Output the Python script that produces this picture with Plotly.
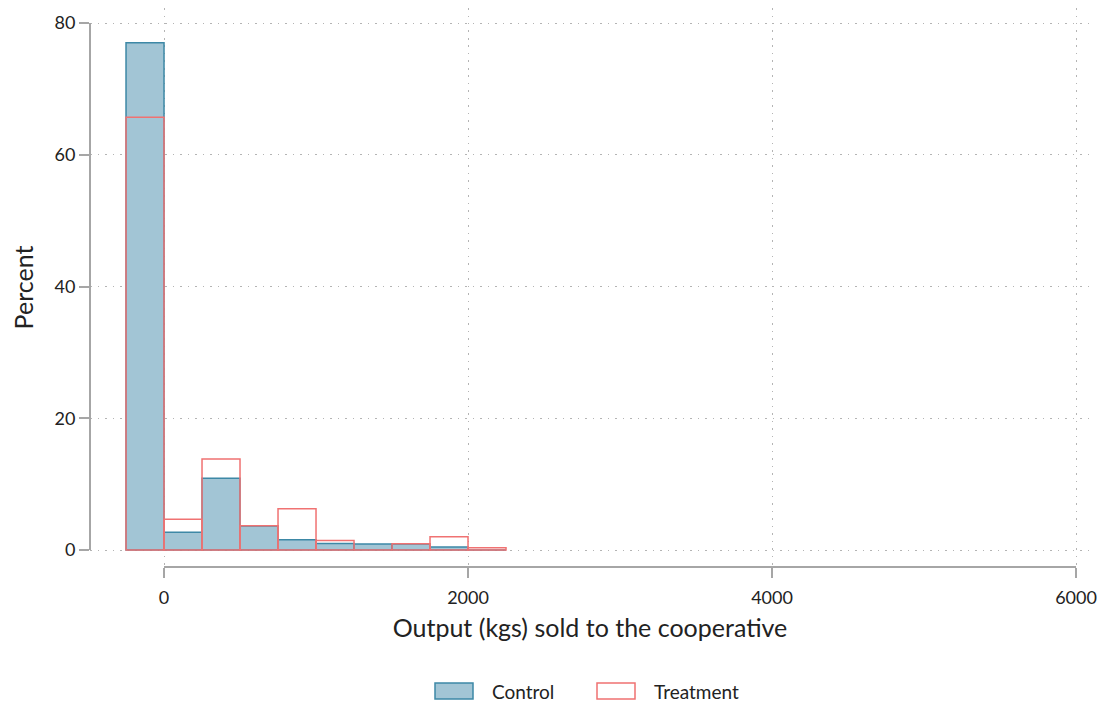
import plotly.graph_objects as go

bin_left = [-250, 0, 250, 500, 750, 1000, 1250, 1500, 1750, 2000]
bin_width = 250
control_pct = [77.0, 2.7, 10.9, 3.65, 1.55, 1.0, 0.9, 0.9, 0.45, 0.0]
treatment_pct = [65.7, 4.65, 13.8, 3.7, 6.25, 1.45, 0.0, 0.95, 2.0, 0.35]

x_ticks = [0, 2000, 4000, 6000]
y_ticks = [0, 20, 40, 60, 80]

centers = [b + bin_width / 2 for b in bin_left]

FONT = "Source Sans Pro, Lato, Noto Sans, sans-serif"
AXIS_COL = "#a6a6a6"
GRID_COL = "#b4b4b4"
CTRL_FILL, CTRL_LINE = "#a2c5d5", "#3d88a6"
TRT_LINE = "#f07272"

fig = go.Figure()
fig.add_trace(go.Bar(
    x=centers, y=control_pct, width=bin_width, name="Control",
    marker=dict(color=CTRL_FILL, line=dict(color=CTRL_LINE, width=1.5)),
))
fig.add_trace(go.Bar(
    x=centers, y=treatment_pct, width=bin_width, name="Treatment",
    marker=dict(color="rgba(255,255,255,0)", line=dict(color=TRT_LINE, width=1.5)),
))

fig.update_layout(
    width=1097, height=700,
    barmode="overlay",
    plot_bgcolor="white", paper_bgcolor="white",
    margin=dict(l=82, r=15, t=0, b=141, autoexpand=False),
    font=dict(family=FONT, size=18, color="#222"),
    showlegend=False,
    xaxis=dict(
        range=[-487, 6092], tickvals=x_ticks, ticktext=[str(v) for v in x_ticks],
        showgrid=True, gridcolor=GRID_COL, griddash="1.5px,6px", gridwidth=1.2,
        zeroline=False, showline=False, ticks="outside", ticklen=10,
        tickcolor=AXIS_COL, tickwidth=1.5, tickfont=dict(size=18), automargin=False,
        ticklabelstandoff=4,
        title=dict(text="Output (kgs) sold to the cooperative", font=dict(size=25), standoff=12),
    ),
    yaxis=dict(
        range=[-2.58, 82.28], tickvals=y_ticks, ticktext=[str(v) for v in y_ticks],
        showgrid=True, gridcolor=GRID_COL, griddash="1.5px,6px", gridwidth=1.2,
        zeroline=False, showline=False, ticks="outside", ticklen=10,
        tickcolor=AXIS_COL, tickwidth=2, tickfont=dict(size=18), automargin=False,
        title=dict(text="Percent", font=dict(size=25), standoff=18),
    ),
)

# axis lines spanning the tick range only (Stata style)
fig.add_shape(type="line", xref="x", yref="paper", x0=x_ticks[0], x1=x_ticks[-1], y0=0, y1=0,
              line=dict(color=AXIS_COL, width=2))
fig.add_shape(type="line", xref="paper", yref="y", x0=0, x1=0, y0=y_ticks[0], y1=y_ticks[-1],
              line=dict(color=AXIS_COL, width=2))

# legend drawn as wide swatches like the original
legend_items = [("Control", CTRL_FILL, CTRL_LINE, 0.345), ("Treatment", "white", TRT_LINE, 0.507)]
for label, fill, line, x0 in legend_items:
    fig.add_shape(type="rect", xref="paper", yref="paper", x0=x0, x1=x0 + 0.038,
                  y0=-0.2361, y1=-0.2075, fillcolor=fill, line=dict(color=line, width=1.5))
    fig.add_annotation(xref="paper", yref="paper", x=x0 + 0.055, y=-0.2236, text=label,
                       showarrow=False, xanchor="left", yanchor="middle", font=dict(size=19))

fig.write_html("out.html")
